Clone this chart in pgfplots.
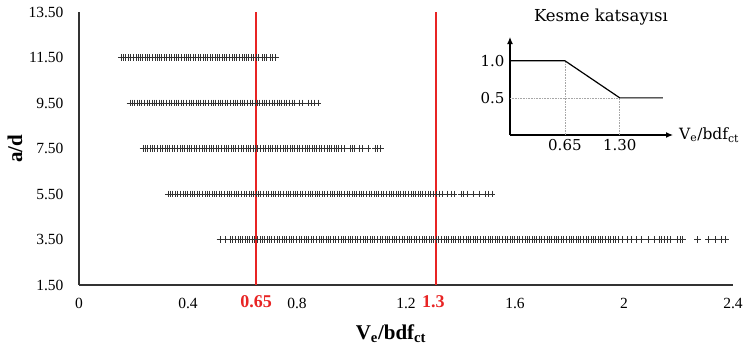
\documentclass[border=0pt]{standalone}
\usepackage{pgfplots}
\pgfplotsset{compat=1.18}
\usepackage{fontspec}
\setmainfont{Liberation Serif}
\newfontfamily\insetfont{DejaVu Serif}
\usetikzlibrary{arrows.meta}
\definecolor{lred}{RGB}{232,36,36}
\tikzset{pm/.style={only marks, mark=+, mark size=3.3pt, mark options={line width=0.6pt, black!80}}}
\begin{document}
\begin{tikzpicture}
\path[use as bounding box] (-79pt,-61pt) rectangle (665pt,285pt);
\begin{axis}[
  at={(0pt,0pt)}, anchor=south west,
  scale only axis, width=654pt, height=273pt,
  xmin=0, xmax=2.4, ymin=1.5, ymax=13.5,
  axis x line=bottom, axis y line=left,
  axis line style={-, line width=1.2pt, black!80},
  xtick={0,0.4,0.8,1.2,1.6,2,2.4},
  xticklabels={0,0.4,0.8,1.2,1.6,2,2.4},
  ytick={1.5,3.5,5.5,7.5,9.5,11.5,13.5},
  yticklabels={1.50,3.50,5.50,7.50,9.50,11.50,13.50},
  major tick length=0pt,
  /pgf/number format/assume math mode=true,
  tick label style={font=\fontsize{15.5}{18}\selectfont},
  yticklabel style={xshift=-12pt},
  xticklabel style={yshift=-10pt},
  clip=false,
]
\addplot[pm] coordinates {(0.155,11.5)(0.163,11.5)(0.171,11.5)(0.182,11.5)(0.190,11.5)(0.198,11.5)(0.209,11.5)(0.216,11.5)(0.224,11.5)(0.233,11.5)(0.244,11.5)(0.251,11.5)(0.259,11.5)(0.268,11.5)(0.279,11.5)(0.287,11.5)(0.295,11.5)(0.303,11.5)(0.314,11.5)(0.322,11.5)(0.330,11.5)(0.339,11.5)(0.350,11.5)(0.357,11.5)(0.365,11.5)(0.374,11.5)(0.385,11.5)(0.393,11.5)(0.401,11.5)(0.410,11.5)(0.421,11.5)(0.428,11.5)(0.436,11.5)(0.445,11.5)(0.456,11.5)(0.464,11.5)(0.472,11.5)(0.480,11.5)(0.491,11.5)(0.499,11.5)(0.507,11.5)(0.516,11.5)(0.527,11.5)(0.534,11.5)(0.542,11.5)(0.551,11.5)(0.562,11.5)(0.570,11.5)(0.578,11.5)(0.587,11.5)(0.598,11.5)(0.605,11.5)(0.613,11.5)(0.622,11.5)(0.633,11.5)(0.641,11.5)(0.649,11.5)(0.658,11.5)(0.672,11.5)(0.680,11.5)(0.688,11.5)(0.703,11.5)(0.711,11.5)(0.722,11.5)};
\addplot[pm] coordinates {(0.187,9.5)(0.195,9.5)(0.203,9.5)(0.214,9.5)(0.222,9.5)(0.230,9.5)(0.241,9.5)(0.249,9.5)(0.257,9.5)(0.268,9.5)(0.276,9.5)(0.284,9.5)(0.295,9.5)(0.303,9.5)(0.311,9.5)(0.322,9.5)(0.330,9.5)(0.338,9.5)(0.349,9.5)(0.357,9.5)(0.365,9.5)(0.376,9.5)(0.384,9.5)(0.392,9.5)(0.403,9.5)(0.411,9.5)(0.419,9.5)(0.430,9.5)(0.438,9.5)(0.446,9.5)(0.457,9.5)(0.465,9.5)(0.473,9.5)(0.484,9.5)(0.492,9.5)(0.500,9.5)(0.511,9.5)(0.519,9.5)(0.527,9.5)(0.538,9.5)(0.546,9.5)(0.554,9.5)(0.565,9.5)(0.573,9.5)(0.581,9.5)(0.592,9.5)(0.600,9.5)(0.608,9.5)(0.619,9.5)(0.627,9.5)(0.635,9.5)(0.646,9.5)(0.654,9.5)(0.662,9.5)(0.673,9.5)(0.681,9.5)(0.689,9.5)(0.700,9.5)(0.708,9.5)(0.716,9.5)(0.727,9.5)(0.735,9.5)(0.743,9.5)(0.754,9.5)(0.762,9.5)(0.770,9.5)(0.781,9.5)(0.790,9.5)(0.808,9.5)(0.818,9.5)(0.842,9.5)(0.852,9.5)(0.862,9.5)(0.877,9.5)};
\addplot[pm] coordinates {(0.235,7.5)(0.243,7.5)(0.251,7.5)(0.262,7.5)(0.270,7.5)(0.278,7.5)(0.289,7.5)(0.297,7.5)(0.305,7.5)(0.316,7.5)(0.324,7.5)(0.332,7.5)(0.343,7.5)(0.351,7.5)(0.359,7.5)(0.370,7.5)(0.378,7.5)(0.386,7.5)(0.397,7.5)(0.405,7.5)(0.413,7.5)(0.424,7.5)(0.432,7.5)(0.440,7.5)(0.451,7.5)(0.459,7.5)(0.467,7.5)(0.478,7.5)(0.486,7.5)(0.494,7.5)(0.505,7.5)(0.513,7.5)(0.521,7.5)(0.532,7.5)(0.540,7.5)(0.548,7.5)(0.559,7.5)(0.567,7.5)(0.575,7.5)(0.586,7.5)(0.594,7.5)(0.602,7.5)(0.613,7.5)(0.621,7.5)(0.629,7.5)(0.640,7.5)(0.648,7.5)(0.656,7.5)(0.667,7.5)(0.675,7.5)(0.683,7.5)(0.694,7.5)(0.702,7.5)(0.710,7.5)(0.721,7.5)(0.729,7.5)(0.737,7.5)(0.748,7.5)(0.756,7.5)(0.764,7.5)(0.775,7.5)(0.783,7.5)(0.791,7.5)(0.802,7.5)(0.810,7.5)(0.818,7.5)(0.829,7.5)(0.837,7.5)(0.845,7.5)(0.856,7.5)(0.864,7.5)(0.872,7.5)(0.883,7.5)(0.891,7.5)(0.899,7.5)(0.910,7.5)(0.918,7.5)(0.926,7.5)(0.937,7.5)(0.945,7.5)(0.953,7.5)(0.964,7.5)(0.975,7.5)(0.995,7.5)(1.003,7.5)(1.012,7.5)(1.027,7.5)(1.038,7.5)(1.060,7.5)(1.086,7.5)(1.096,7.5)(1.106,7.5)};
\addplot[pm] coordinates {(0.327,5.5)(0.335,5.5)(0.343,5.5)(0.354,5.5)(0.362,5.5)(0.370,5.5)(0.381,5.5)(0.389,5.5)(0.397,5.5)(0.408,5.5)(0.416,5.5)(0.424,5.5)(0.435,5.5)(0.443,5.5)(0.451,5.5)(0.462,5.5)(0.470,5.5)(0.478,5.5)(0.489,5.5)(0.497,5.5)(0.505,5.5)(0.516,5.5)(0.524,5.5)(0.532,5.5)(0.543,5.5)(0.551,5.5)(0.559,5.5)(0.570,5.5)(0.578,5.5)(0.586,5.5)(0.597,5.5)(0.605,5.5)(0.613,5.5)(0.624,5.5)(0.632,5.5)(0.640,5.5)(0.651,5.5)(0.659,5.5)(0.667,5.5)(0.678,5.5)(0.686,5.5)(0.694,5.5)(0.705,5.5)(0.713,5.5)(0.721,5.5)(0.732,5.5)(0.740,5.5)(0.748,5.5)(0.759,5.5)(0.767,5.5)(0.775,5.5)(0.786,5.5)(0.794,5.5)(0.802,5.5)(0.813,5.5)(0.821,5.5)(0.829,5.5)(0.840,5.5)(0.848,5.5)(0.856,5.5)(0.867,5.5)(0.875,5.5)(0.883,5.5)(0.894,5.5)(0.902,5.5)(0.910,5.5)(0.921,5.5)(0.929,5.5)(0.937,5.5)(0.948,5.5)(0.956,5.5)(0.964,5.5)(0.975,5.5)(0.983,5.5)(0.991,5.5)(1.002,5.5)(1.010,5.5)(1.018,5.5)(1.029,5.5)(1.037,5.5)(1.045,5.5)(1.056,5.5)(1.064,5.5)(1.072,5.5)(1.083,5.5)(1.091,5.5)(1.099,5.5)(1.110,5.5)(1.118,5.5)(1.126,5.5)(1.137,5.5)(1.145,5.5)(1.153,5.5)(1.164,5.5)(1.172,5.5)(1.180,5.5)(1.191,5.5)(1.199,5.5)(1.207,5.5)(1.218,5.5)(1.226,5.5)(1.234,5.5)(1.245,5.5)(1.253,5.5)(1.261,5.5)(1.272,5.5)(1.280,5.5)(1.288,5.5)(1.299,5.5)(1.312,5.5)(1.322,5.5)(1.335,5.5)(1.350,5.5)(1.365,5.5)(1.376,5.5)(1.403,5.5)(1.412,5.5)(1.426,5.5)(1.448,5.5)(1.468,5.5)(1.492,5.5)(1.501,5.5)(1.515,5.5)};
\addplot[pm] coordinates {(0.517,3.5)(0.536,3.5)(0.556,3.5)(0.564,3.5)(0.572,3.5)(0.583,3.5)(0.591,3.5)(0.599,3.5)(0.610,3.5)(0.618,3.5)(0.626,3.5)(0.637,3.5)(0.645,3.5)(0.653,3.5)(0.664,3.5)(0.672,3.5)(0.680,3.5)(0.691,3.5)(0.699,3.5)(0.707,3.5)(0.718,3.5)(0.726,3.5)(0.734,3.5)(0.745,3.5)(0.753,3.5)(0.761,3.5)(0.772,3.5)(0.780,3.5)(0.788,3.5)(0.799,3.5)(0.807,3.5)(0.815,3.5)(0.826,3.5)(0.834,3.5)(0.842,3.5)(0.853,3.5)(0.861,3.5)(0.869,3.5)(0.880,3.5)(0.888,3.5)(0.896,3.5)(0.907,3.5)(0.915,3.5)(0.923,3.5)(0.934,3.5)(0.942,3.5)(0.950,3.5)(0.961,3.5)(0.969,3.5)(0.977,3.5)(0.988,3.5)(0.996,3.5)(1.004,3.5)(1.015,3.5)(1.023,3.5)(1.031,3.5)(1.042,3.5)(1.050,3.5)(1.058,3.5)(1.069,3.5)(1.077,3.5)(1.085,3.5)(1.096,3.5)(1.104,3.5)(1.112,3.5)(1.123,3.5)(1.131,3.5)(1.139,3.5)(1.150,3.5)(1.158,3.5)(1.166,3.5)(1.177,3.5)(1.185,3.5)(1.193,3.5)(1.204,3.5)(1.212,3.5)(1.220,3.5)(1.231,3.5)(1.239,3.5)(1.247,3.5)(1.258,3.5)(1.266,3.5)(1.274,3.5)(1.285,3.5)(1.293,3.5)(1.301,3.5)(1.312,3.5)(1.320,3.5)(1.328,3.5)(1.339,3.5)(1.347,3.5)(1.355,3.5)(1.366,3.5)(1.374,3.5)(1.382,3.5)(1.393,3.5)(1.401,3.5)(1.409,3.5)(1.420,3.5)(1.428,3.5)(1.436,3.5)(1.447,3.5)(1.455,3.5)(1.463,3.5)(1.474,3.5)(1.482,3.5)(1.490,3.5)(1.501,3.5)(1.509,3.5)(1.517,3.5)(1.528,3.5)(1.536,3.5)(1.544,3.5)(1.555,3.5)(1.563,3.5)(1.571,3.5)(1.582,3.5)(1.590,3.5)(1.598,3.5)(1.609,3.5)(1.617,3.5)(1.625,3.5)(1.636,3.5)(1.644,3.5)(1.652,3.5)(1.663,3.5)(1.671,3.5)(1.679,3.5)(1.690,3.5)(1.698,3.5)(1.706,3.5)(1.717,3.5)(1.725,3.5)(1.733,3.5)(1.744,3.5)(1.752,3.5)(1.760,3.5)(1.771,3.5)(1.779,3.5)(1.787,3.5)(1.798,3.5)(1.806,3.5)(1.814,3.5)(1.825,3.5)(1.833,3.5)(1.841,3.5)(1.852,3.5)(1.860,3.5)(1.868,3.5)(1.879,3.5)(1.887,3.5)(1.895,3.5)(1.906,3.5)(1.914,3.5)(1.922,3.5)(1.933,3.5)(1.941,3.5)(1.949,3.5)(1.960,3.5)(1.968,3.5)(1.980,3.5)(1.995,3.5)(2.012,3.5)(2.025,3.5)(2.045,3.5)(2.065,3.5)(2.090,3.5)(2.110,3.5)(2.128,3.5)(2.138,3.5)(2.148,3.5)(2.158,3.5)(2.170,3.5)(2.195,3.5)(2.205,3.5)(2.215,3.5)(2.270,3.5)(2.310,3.5)(2.335,3.5)(2.358,3.5)(2.372,3.5)};
% limits 0.65 and 1.3
\addplot[lred, line width=1.4pt, mark=none] coordinates {(0.65,1.5) (0.65,13.5)};
\addplot[lred, line width=1.4pt, mark=none] coordinates {(1.31,1.5) (1.31,13.5)};
\node[anchor=north, text=lred, font=\fontsize{18}{20}\selectfont\bfseries, inner sep=0pt] at (axis cs:0.65,1.5) [yshift=-10pt] {0.65};
\node[anchor=north, text=lred, font=\fontsize{18}{20}\selectfont\bfseries, inner sep=0pt] at (axis cs:1.3,1.5) [yshift=-10pt] {1.3};
\node[xshift=-64pt, rotate=90, font=\fontsize{21}{24}\selectfont\bfseries] at (rel axis cs:0,0.5) {a/d};
\node[yshift=-49pt, font=\fontsize{21}{24}\selectfont\bfseries] at (rel axis cs:0.477,0) {V\textsubscript{e}/bdf\textsubscript{ct}};
\end{axis}
\begin{axis}[
  at={(431pt,150pt)}, anchor=south west,
  scale only axis, width=163pt, height=98pt,
  xmin=0, xmax=1.93, ymin=0, ymax=1.32,
  axis x line=bottom, axis y line=left,
  axis line style={-{Latex[length=7pt,width=6pt]}, line width=1.2pt, black},
  xtick={0.65,1.3}, xticklabels={0.65,1.30},
  ytick={0.5,1}, yticklabels={0.5,1.0},
  major tick length=0pt,
  /pgf/number format/assume math mode=true,
  tick label style={font=\insetfont\fontsize{15}{17}\selectfont},
  yticklabel style={xshift=-2pt},
  xticklabel style={yshift=-1pt},
  clip=false,
]
\addplot[gray!70, densely dotted, line width=0.6pt] coordinates {(0.65,0) (0.65,1)};
\addplot[gray!70, densely dotted, line width=0.6pt] coordinates {(1.3,0) (1.3,0.5)};
\addplot[gray!70, densely dotted, line width=0.6pt] coordinates {(0,0.5) (1.3,0.5)};
\addplot[black, line width=1.2pt] coordinates {(0,1) (0.65,1) (1.3,0.5) (1.81,0.5)};
\node[font=\insetfont\fontsize{16.5}{19}\selectfont] at (rel axis cs:0.558,1.204) {Kesme katsayısı};
\node[anchor=west, font=\insetfont\fontsize{15.5}{17}\selectfont, inner sep=0pt] at (rel axis cs:1,0) [xshift=6pt] {V\textsubscript{e}/bdf\textsubscript{ct}};
\end{axis}
\end{tikzpicture}
\end{document}
